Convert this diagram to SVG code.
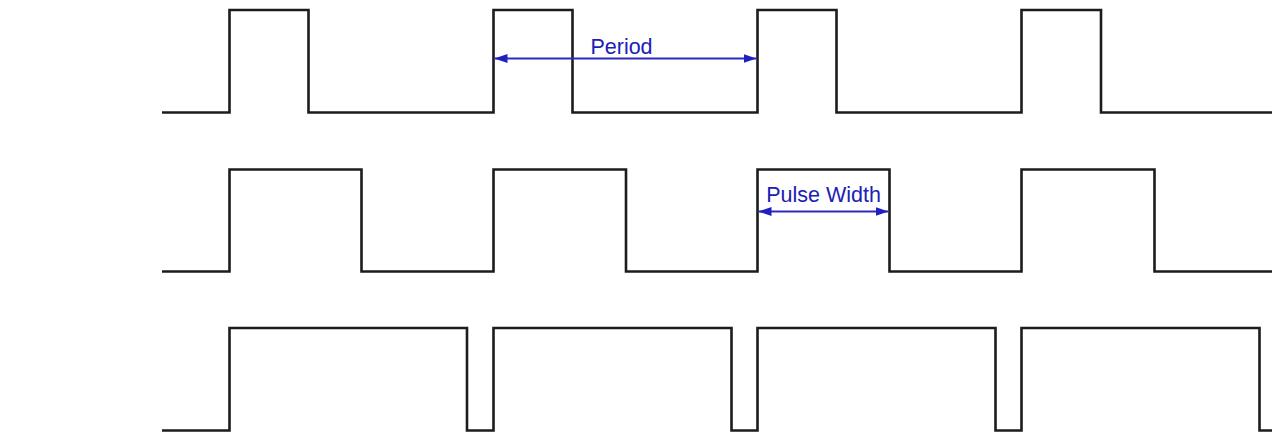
<svg xmlns="http://www.w3.org/2000/svg" width="1272" height="432" viewBox="0 0 1272 432">
<defs>
<style>
.wave{fill:none;stroke:#1c1c1c;stroke-width:2.6;stroke-linejoin:miter;stroke-linecap:butt}
.dim{stroke:#2a2ac0;stroke-width:1.8;fill:none}
.lbl{font-family:"Liberation Sans",Arial,sans-serif;font-size:21.5px;fill:#2020b4}
</style>
<marker id="ah" viewBox="0 0 13 9" refX="13" refY="4.5" markerWidth="13" markerHeight="9" markerUnits="userSpaceOnUse" orient="auto-start-reverse">
<path d="M0,0 L13,4.5 L0,9 Z" fill="#2020c0"/>
</marker>
</defs>
<rect width="1272" height="432" fill="#ffffff"/>
<g id="wave1">
<path class="wave" d="M162,112.5 H229.5 V10 H308.5 V112.5 H493.5 V10 H572.5 V112.5 H757.5 V10 H836.5 V112.5 H1021.5 V10 H1101 V112.5 H1272"/>
</g>
<g id="wave2">
<path class="wave" d="M162,271.5 H229.5 V169.5 H361.5 V271.5 H493.5 V169.5 H626 V271.5 H757.5 V169.5 H889.5 V271.5 H1021.5 V169.5 H1154.5 V271.5 H1272"/>
</g>
<g id="wave3">
<path class="wave" d="M162,430.5 H229.5 V328 H467 V430.5 H493.5 V328 H731.5 V430.5 H757.5 V328 H995.5 V430.5 H1021.5 V328 H1259.5 V430.5 H1272"/>
</g>
<g id="connectors">
<line class="dim" x1="494.5" y1="58.5" x2="756.5" y2="58.5" marker-start="url(#ah)" marker-end="url(#ah)"/>
<line class="dim" x1="758.5" y1="211.5" x2="888.5" y2="211.5" marker-start="url(#ah)" marker-end="url(#ah)"/>
</g>
<g id="label-period">
<text class="lbl" x="621.5" y="54" text-anchor="middle">Period</text>
</g>
<g id="label-pulse-width">
<text class="lbl" x="823.5" y="201.5" text-anchor="middle">Pulse Width</text>
</g>
</svg>
